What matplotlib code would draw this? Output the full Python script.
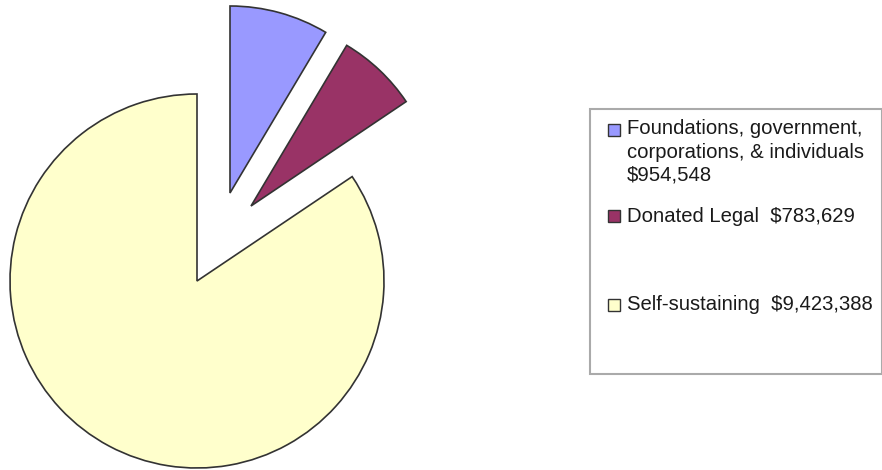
import matplotlib.pyplot as plt
from matplotlib.patches import Rectangle

plt.rcParams['font.family'] = ['Liberation Sans', 'DejaVu Sans']

labels = [["Foundations, government,", "corporations, & individuals", "\\$954,548"],
          ["Donated Legal  \\$783,629"],
          ["Self-sustaining  \\$9,423,388"]]
values = [954548, 783629, 9423388]
colors = ['#9999FF', '#993366', '#FFFFCC']

W, H = 882, 470
fig = plt.figure(figsize=(W / 100, H / 100), dpi=100)
ax = fig.add_axes([0, 0, 1, 1])

# pie in pixel coordinates (y up)
r = 187
cx, cy = 197, H - 281
wedges, _ = ax.pie(values, colors=colors, startangle=90, counterclock=False,
                   center=(cx, cy), radius=r,
                   wedgeprops=dict(edgecolor='#333333', linewidth=1.2), frame=True)
# pulled-out slices
shifts = [(33, 88), (54, 75), (0, 0)]
for w, (dx, dy) in zip(wedges, shifts):
    w.set_center((cx + dx, cy + dy))

ax.set_xlim(0, W)
ax.set_ylim(0, H)
ax.set_aspect('equal')
ax.axis('off')

# legend box
ax.add_patch(Rectangle((590, H - 374), 292, 265, facecolor='white',
                       edgecolor='#aaaaaa', linewidth=1.5))
sq_y = [130, 215.5, 305]
base_y = [134.5, 222, 310]
for lines, col, sy, by in zip(labels, colors, sq_y, base_y):
    ax.add_patch(Rectangle((608, H - sy - 6), 12, 12, facecolor=col,
                           edgecolor='#333333', linewidth=1))
    for k, line in enumerate(lines):
        ax.text(627, H - by - 23 * k, line, fontsize=14.6, color='#1a1a1a',
                va='baseline', ha='left')

fig.savefig('out.png', dpi=100)
